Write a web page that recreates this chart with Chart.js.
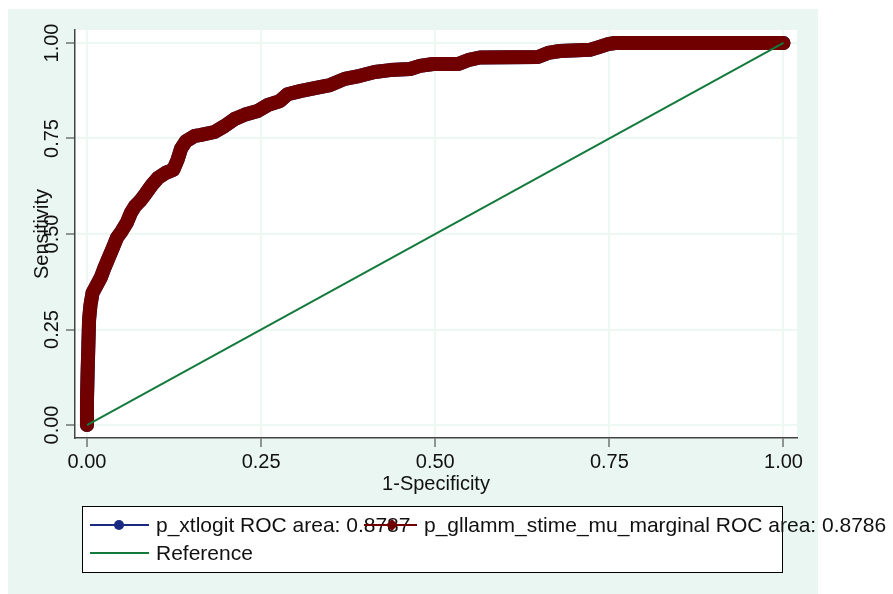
<!DOCTYPE html>
<html>
<head>
<meta charset="utf-8">
<script src="https://cdn.jsdelivr.net/npm/chart.js@4.4.1/dist/chart.umd.min.js"></script>
<style>
  body { margin: 0; background: #fff; }
  #wrap { width: 893px; height: 594px; }
</style>
</head>
<body>
<div id="wrap"><canvas id="roc" width="893" height="594"></canvas></div>
<script>
"use strict";

// data
const fpr = [0, 0.000, 0.001, 0.002, 0.003, 0.005, 0.008, 0.014, 0.020, 0.025,
  0.031, 0.037, 0.043, 0.050, 0.057, 0.063, 0.069, 0.076, 0.084, 0.093,
  0.102, 0.113, 0.124, 0.130, 0.135, 0.142, 0.155, 0.162, 0.183, 0.198,
  0.212, 0.226, 0.245, 0.260, 0.277, 0.288, 0.306, 0.327, 0.349, 0.370,
  0.392, 0.413, 0.435, 0.464, 0.478, 0.497, 0.533, 0.547, 0.564, 0.647,
  0.662, 0.679, 0.722, 0.736, 0.748, 0.758, 1];
const sens = [0, 0.065, 0.144, 0.209, 0.275, 0.314, 0.346, 0.366, 0.387, 0.411,
  0.437, 0.463, 0.490, 0.508, 0.529, 0.555, 0.573, 0.586, 0.605, 0.628,
  0.647, 0.660, 0.668, 0.694, 0.723, 0.743, 0.757, 0.759, 0.767, 0.783,
  0.801, 0.812, 0.822, 0.838, 0.848, 0.866, 0.874, 0.882, 0.890, 0.906,
  0.914, 0.924, 0.929, 0.932, 0.940, 0.945, 0.945, 0.955, 0.962, 0.963,
  0.974, 0.979, 0.982, 0.990, 0.997, 1.0, 1.0];
const refX = [0, 1];
const refY = [0, 1];
const tickVals = [0, 0.25, 0.5, 0.75, 1];
const tickText = ["0.00", "0.25", "0.50", "0.75", "1.00"];
const seriesNames = [
  "p_xtlogit ROC area: 0.8787",
  "p_gllamm_stime_mu_marginal ROC area: 0.8786",
  "Reference"
];

const NAVY = "#1a2a80";
const MAROON = "#700000";
const GREEN = "#137a3c";
const MINT = "#eaf6f1";
const GRID = "#edf8f3";
const FONT = "'Liberation Sans', Arial, sans-serif";

const toPts = (xs, ys) => xs.map((x, i) => ({ x: x, y: ys[i] }));

// backgrounds: white page, mint graph region, white plot region
const bgPlugin = {
  id: "bg",
  beforeDraw(chart) {
    const { ctx, chartArea: a } = chart;
    ctx.save();
    ctx.fillStyle = "#fff";
    ctx.fillRect(0, 0, chart.width, chart.height);
    ctx.fillStyle = MINT;
    ctx.fillRect(8, 9, 810, 585);
    ctx.fillStyle = "#fff";
    ctx.fillRect(a.left, a.top, a.right - a.left, a.bottom - a.top);
    ctx.restore();
  }
};

// vertical y tick labels + stata style legend
const extraPlugin = {
  id: "extra",
  afterDraw(chart) {
    const ctx = chart.ctx;
    const ys = chart.scales.y;
    ctx.save();
    ctx.fillStyle = "#111";
    ctx.font = "20px " + FONT;
    ctx.textAlign = "center";
    ctx.textBaseline = "middle";
    tickVals.forEach((v, i) => {
      ctx.save();
      ctx.translate(52, ys.getPixelForValue(v));
      ctx.rotate(-Math.PI / 2);
      ctx.fillText(tickText[i], 0, 0);
      ctx.restore();
    });

    // legend
    ctx.fillStyle = "#fff";
    ctx.fillRect(82, 506, 700, 66);
    ctx.strokeStyle = "#000";
    ctx.lineWidth = 1;
    ctx.strokeRect(82.5, 506.5, 700, 66);

    const key = (x0, x1, y, color) => {
      ctx.strokeStyle = color;
      ctx.lineWidth = 2;
      ctx.beginPath();
      ctx.moveTo(x0, y);
      ctx.lineTo(x1, y);
      ctx.stroke();
    };
    ctx.font = "21px " + FONT;
    ctx.textAlign = "left";
    ctx.fillStyle = "#111";
    ctx.fillText(seriesNames[0], 156, 526);
    ctx.fillText(seriesNames[2], 156, 554);

    key(90, 149, 525, NAVY);
    ctx.fillStyle = NAVY;
    ctx.beginPath();
    ctx.arc(119, 525, 5, 0, Math.PI * 2);
    ctx.fill();

    key(90, 149, 553, GREEN);

    key(364, 417, 525, MAROON);
    ctx.fillStyle = MAROON;
    ctx.beginPath();
    ctx.moveTo(392, 519);
    ctx.lineTo(398, 525);
    ctx.lineTo(392, 531);
    ctx.lineTo(386, 525);
    ctx.closePath();
    ctx.fill();

    ctx.fillStyle = "#111";
    ctx.fillText(seriesNames[1], 424, 526);
    ctx.restore();
  }
};

const ctx = document.getElementById("roc").getContext("2d");

new Chart(ctx, {
  type: "scatter",
  data: {
    datasets: [
      {
        label: seriesNames[1],
        data: toPts(fpr, sens),
        showLine: true,
        borderColor: MAROON,
        borderWidth: 14,
        borderCapStyle: "round",
        borderJoinStyle: "round",
        pointRadius: 0,
        order: 1
      },
      {
        label: seriesNames[0],
        data: toPts(fpr, sens),
        showLine: true,
        borderColor: NAVY,
        borderWidth: 14,
        borderCapStyle: "round",
        borderJoinStyle: "round",
        pointRadius: 0,
        order: 2
      },
      {
        label: seriesNames[2],
        data: toPts(refX, refY),
        showLine: true,
        borderColor: GREEN,
        borderWidth: 2,
        pointRadius: 0,
        order: 0
      }
    ]
  },
  options: {
    responsive: false,
    animation: false,
    layout: { padding: { left: 8, top: 30, right: 96, bottom: 96 } },
    plugins: {
      legend: { display: false },
      tooltip: { enabled: false }
    },
    scales: {
      x: {
        type: "linear",
        min: -0.0172,
        max: 1.0194,
        afterBuildTicks: (s) => { s.ticks = tickVals.map((v) => ({ value: v })); },
        afterFit: (s) => { s.height = 60; },
        ticks: {
          callback: (v) => v.toFixed(2),
          font: { size: 20, family: FONT },
          color: "#111",
          padding: 3,
          maxRotation: 0
        },
        grid: { color: GRID, lineWidth: 2, tickColor: "#333", tickLength: 9, tickWidth: 1 },
        border: { color: "#444", width: 1.5 },
        title: {
          display: true,
          text: "1-Specificity",
          font: { size: 20, family: FONT },
          color: "#111",
          padding: { top: 0, bottom: 2 }
        }
      },
      y: {
        type: "linear",
        min: -0.034,
        max: 1.034,
        afterBuildTicks: (s) => { s.ticks = tickVals.map((v) => ({ value: v })); },
        afterFit: (s) => { s.width = 67; },
        ticks: { display: false },
        grid: { color: GRID, lineWidth: 2, tickColor: "#333", tickLength: 9, tickWidth: 1 },
        border: { color: "#444", width: 1.5 },
        title: {
          display: true,
          text: "Sensitivity",
          font: { size: 20, family: FONT },
          color: "#111",
          padding: { top: 22, bottom: 0 }
        }
      }
    }
  },
  plugins: [bgPlugin, extraPlugin]
});
</script>
</body>
</html>
